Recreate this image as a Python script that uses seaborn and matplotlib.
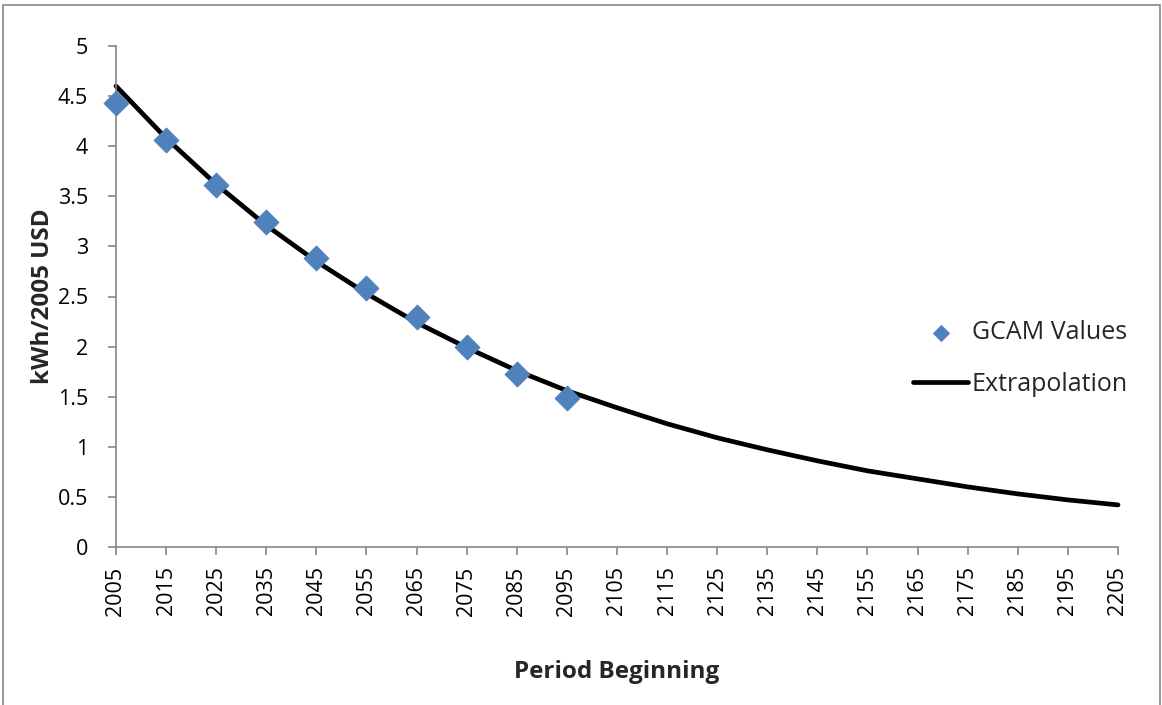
import pandas as pd
import matplotlib
matplotlib.use("Agg")
import matplotlib.pyplot as plt
import seaborn as sns
from matplotlib.patches import Rectangle

# GCAM values
gcam_years = [2005, 2015, 2025, 2035, 2045, 2055, 2065, 2075, 2085, 2095]
gcam_values = [4.43, 4.06, 3.61, 3.24, 2.88, 2.58, 2.30, 2.00, 1.73, 1.49]

# extrapolation curve
ext_years = [2005, 2015, 2025, 2035, 2045, 2055, 2065, 2075, 2085, 2095,
             2105, 2115, 2125, 2135, 2145, 2155, 2165, 2175, 2185, 2195, 2205]
ext_values = [4.60, 4.08, 3.62, 3.21, 2.85, 2.53, 2.24, 1.99, 1.76, 1.56,
              1.39, 1.23, 1.09, 0.97, 0.86, 0.76, 0.68, 0.60, 0.53, 0.47, 0.42]

x_ticks = list(range(2005, 2206, 10))
y_ticks = [0, 0.5, 1, 1.5, 2, 2.5, 3, 3.5, 4, 4.5, 5]
y_ticklabels = ["0", "0.5", "1", "1.5", "2", "2.5", "3", "3.5", "4", "4.5", "5"]

gcam_df = pd.DataFrame({"year": gcam_years, "value": gcam_values})
ext_df = pd.DataFrame({"year": ext_years, "value": ext_values})

sns.set_style("white")
plt.rcParams["font.family"] = ["Open Sans", "DejaVu Sans"]

fig = plt.figure(figsize=(11.62, 7.05), dpi=100)
ax = fig.add_axes([116 / 1162, 1 - 547 / 705, (1118 - 116) / 1162, (547 - 46) / 705])

sns.lineplot(data=ext_df, x="year", y="value", ax=ax, color="black", lw=3.4,
             label="Extrapolation", zorder=2, clip_on=False)
sns.scatterplot(data=gcam_df, x="year", y="value", ax=ax, marker="D", s=165,
                color="#4F81BD", edgecolor="#4F81BD", linewidth=0.5,
                label="GCAM Values", zorder=3, clip_on=False)

ax.set_xlim(2005, 2205)
ax.set_ylim(0, 5)
ax.set_xticks(x_ticks)
ax.set_xticklabels([str(t) for t in x_ticks], rotation=90)
ax.set_yticks(y_ticks)
ax.set_yticklabels(y_ticklabels)
ax.tick_params(axis="both", which="major", direction="out", length=6, width=1.2,
               color="#868686", labelsize=15.5, labelcolor="black",
               left=True, bottom=True)
ax.tick_params(axis="x", pad=8)
ax.tick_params(axis="y", pad=14)

for side in ["top", "right"]:
    ax.spines[side].set_visible(False)
for side in ["left", "bottom"]:
    ax.spines[side].set_color("#868686")
    ax.spines[side].set_linewidth(1.2)

ax.set_xlabel("Period Beginning", fontsize=17.5, fontweight="bold", labelpad=32)
ax.set_ylabel("kWh/2005 USD", fontsize=17.5, fontweight="bold", labelpad=2)

handles, labels = ax.get_legend_handles_labels()
order = [labels.index("GCAM Values"), labels.index("Extrapolation")]
ax.legend([handles[i] for i in order], [labels[i] for i in order],
          loc="center left", bbox_to_anchor=(0.783, 0.376), frameon=False,
          fontsize=18, handlelength=2.2, handletextpad=0.15, labelspacing=1.07,
          borderpad=0, markerscale=0.65)

# chart area outline
fig.patches.append(Rectangle((3 / 1162, -0.05), 1157 / 1162, 1.05 - 5 / 705,
                             transform=fig.transFigure, fill=False,
                             edgecolor="#868686", lw=1.2))

fig.savefig("out.png", dpi=100)
